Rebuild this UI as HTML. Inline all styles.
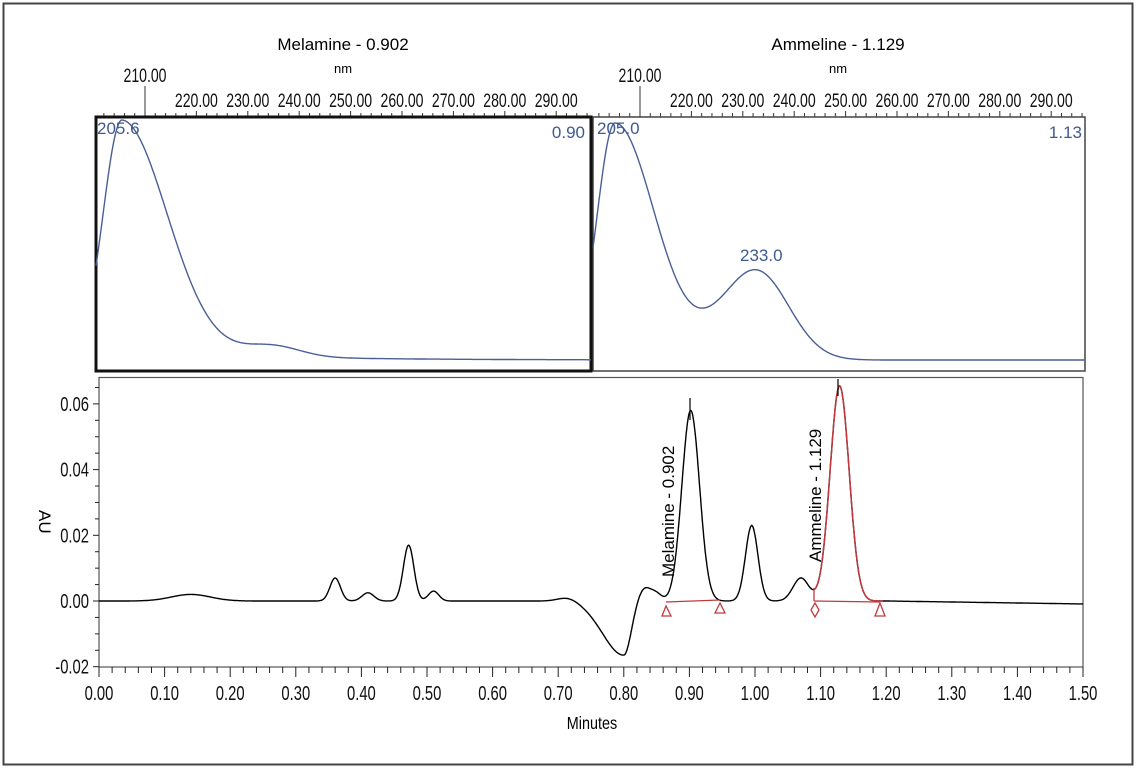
<!DOCTYPE html>
<html><head><meta charset="utf-8"><style>
html,body{margin:0;padding:0;background:#fff}
svg{display:block;font-family:"Liberation Sans",sans-serif}
</style></head><body>
<svg id="s" width="1137" height="769" viewBox="0 0 1137 769" xmlns="http://www.w3.org/2000/svg">
<rect x="3.5" y="3.5" width="1129" height="761" fill="none" stroke="#444" stroke-width="2"/>
<text x="343" y="50" font-size="17" text-anchor="middle">Melamine - 0.902</text>
<text x="343" y="73" font-size="13" text-anchor="middle">nm</text>
<text x="838" y="50" font-size="17" text-anchor="middle">Ammeline - 1.129</text>
<text x="838" y="73" font-size="13" text-anchor="middle">nm</text>
<g id="topax" fill="#111"></g>
<rect x="593" y="117" width="492" height="254" fill="none" stroke="#444" stroke-width="1.5"/>
<rect x="96" y="117" width="495" height="254" fill="none" stroke="#111" stroke-width="3"/>
<path id="sp1" fill="none" stroke="#4a5f95" stroke-width="1.4"/>
<path id="sp2" fill="none" stroke="#4a5f95" stroke-width="1.4"/>
<g fill="#3e5a8f" font-size="17">
<text x="97" y="134">205.6</text>
<text x="585" y="138" text-anchor="end">0.90</text>
<text x="597" y="134">205.0</text>
<text x="1082" y="138" text-anchor="end">1.13</text>
<text x="740" y="261">233.0</text>
</g>
<rect x="99" y="377.5" width="984" height="289.5" fill="none" stroke="#555" stroke-width="1.2"/>
<g id="ax" fill="#111"></g>
<text x="592" y="729" font-size="18" text-anchor="middle" transform="translate(592,0) scale(0.8,1) translate(-592,0)">Minutes</text>
<text x="0" y="0" font-size="17" transform="translate(39,510) rotate(90)">AU</text>
<path id="chrom" fill="none" stroke="#000" stroke-width="1.4"/>
<path id="red" fill="none" stroke="#c0393f" stroke-width="1.5"/>
<g fill="none" stroke="#c0393f" stroke-width="1.3">
<line x1="666" y1="602" x2="720" y2="600"/>
<line x1="814" y1="601" x2="880" y2="602"/>
<line x1="814" y1="588" x2="814" y2="601"/>
<polygon points="666,606 662,616 671,616"/>
<polygon points="720,603 715,613 725,613"/>
<polygon points="880,603 875,616 885,616"/>
<polygon points="815,603 819,610 815,617 811,610"/>
</g>
<line x1="690" y1="398" x2="690" y2="420" stroke="#000" stroke-width="1.2"/>
<line x1="838" y1="379" x2="838" y2="396" stroke="#000" stroke-width="1.2"/>
<text x="0" y="0" font-size="17" transform="translate(674,577) rotate(-90)">Melamine - 0.902</text>
<text x="0" y="0" font-size="17" transform="translate(821,562) rotate(-90)">Ammeline - 1.129</text>
</svg>
<script>
var NS="http://www.w3.org/2000/svg";
function el(p,t,a,txt){var e=document.createElementNS(NS,t);for(var k in a)e.setAttribute(k,a[k]);if(txt!=null)e.textContent=txt;p.appendChild(e);return e;}
function ntext(p,x,y,anchor,size,txt){var sx=0.74;el(p,"text",{x:x/sx,y:y,"text-anchor":anchor,"font-size":size,transform:"scale("+sx+",1)"},txt);}
function g(t,m,s){return Math.exp(-0.5*((t-m)/s)*((t-m)/s));}
function gs(t,m,sl,sr){return g(t,m,t<m?sl:sr);}
function v(t){
 var r=0.002*g(t,0.14,0.03)+0.007*g(t,0.36,0.008)+0.0025*g(t,0.41,0.009)+0.017*g(t,0.472,0.008)+0.003*g(t,0.51,0.008)
 +0.0012*g(t,0.715,0.015)-0.0165*gs(t,0.80,0.032,0.011)+0.004*g(t,0.832,0.01)+0.002*g(t,0.85,0.008)
 +0.058*g(t,0.902,0.0135)+0.023*g(t,0.995,0.0095)+0.007*g(t,1.07,0.012)+0.0655*g(t,1.129,0.0145);
 if(t>1.2)r-=0.0009*(t-1.2)/0.3; return r;}
function X(t){return 99+656*t;} function Y(a){return 601-3285*a;}
var d="",dr="";
for(var t=0;t<=1.5001;t+=0.001){var p=X(t).toFixed(1)+","+Y(v(t)).toFixed(1);d+=(d?"L":"M")+p;if(t>=1.09&&t<=1.195)dr+=(dr?"L":"M")+p;}
document.getElementById("chrom").setAttribute("d",d);document.getElementById("red").setAttribute("d",dr);
var ax=document.getElementById("ax");
for(var i=0;i<=75;i++){var x=X(i*0.02);var maj=i%5==0;el(ax,"line",{x1:x,x2:x,y1:667,y2:maj?677:673,stroke:"#222","stroke-width":1});
 if(maj)ntext(ax,x,700,"middle",20,(i*0.02).toFixed(2));}
for(var j=0;j<=17;j++){var a=-0.02+j*0.005;var y=Y(a);var maj=j%4==0;el(ax,"line",{x1:maj?93:95,x2:99,y1:y,y2:y,stroke:"#222","stroke-width":1});
 if(maj)ntext(ax,89,y+7,"end",20,a.toFixed(2));}
var ta=document.getElementById("topax");
function topAxis(x210,x0,x1){var s=5.14;
 for(var nm=200;nm<=298;nm+=2){var x=x210+(nm-210)*s;if(x<x0||x>x1)continue;var maj=nm%10==0;
  el(ta,"line",{x1:x,x2:x,y1:117,y2:maj?111:113,stroke:"#333","stroke-width":1});
  if(maj&&nm>210&&nm<=290)ntext(ta,x,107,"middle",19,nm.toFixed(2));}
 el(ta,"line",{x1:x210,x2:x210,y1:86,y2:117,stroke:"#555","stroke-width":1.2});
 ntext(ta,x210,82,"middle",19,"210.00");}
topAxis(145,96,591);topAxis(640,593,1085);
function sp(id,pts){var s="";for(var i=0;i<pts.length;i++)s+=(i?"L":"M")+pts[i][0].toFixed(1)+","+pts[i][1].toFixed(1);document.getElementById(id).setAttribute("d",s);}
var p1=[];for(var x=96;x<=591;x+=1){var u=x-122;
 var h=u<0?g(u,0,19):0.95*g(u,0,45)+0.05*Math.exp(-u/120);
 var y=360-240*h-11*g(x,272,28);p1.push([x,Math.min(y,360)]);}sp("sp1",p1);
var p2=[];for(var x=593;x<=1085;x+=1){var u=x-615;
 var h=u<0?g(u,0,18):g(u,0,40);var y=360-237*h-88*g(x,757,32)-10*g(x,710,25);p2.push([x,y]);}sp("sp2",p2);
</script>
</body></html>
